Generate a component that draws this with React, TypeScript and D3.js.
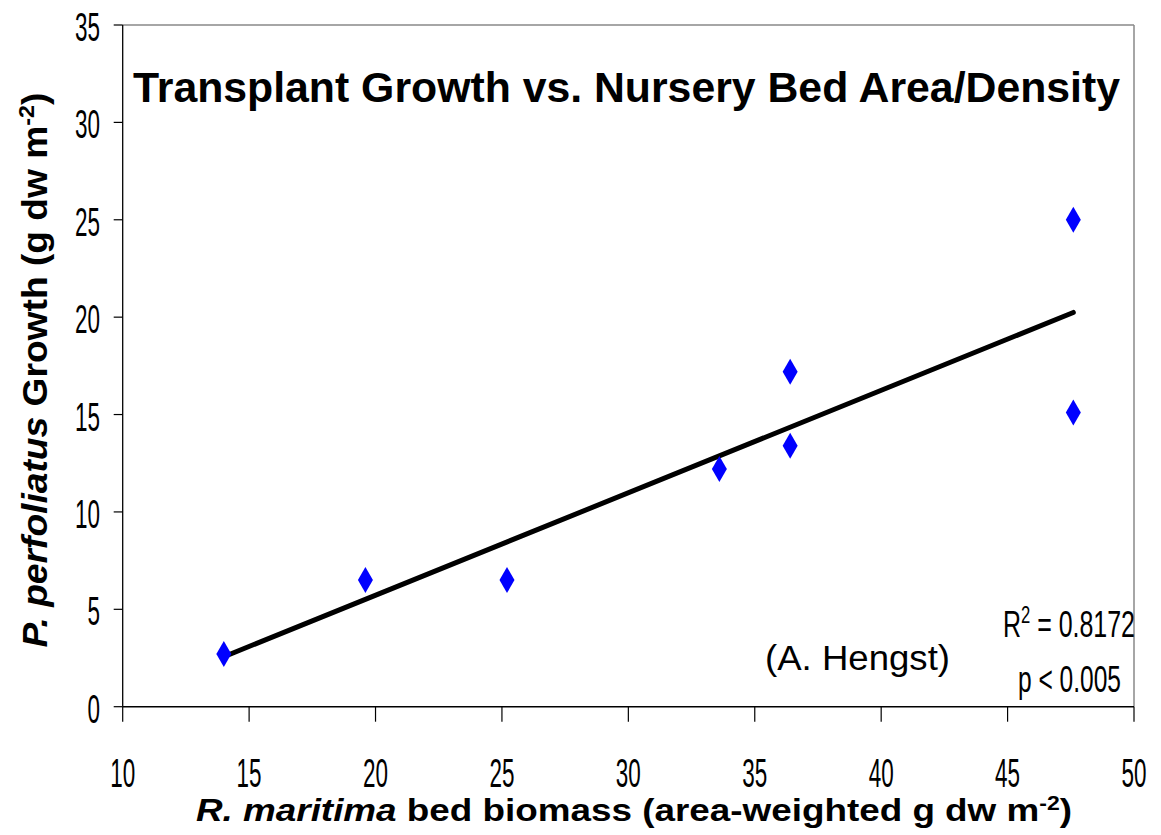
import React from "react";
import * as d3 from "d3";

// biomass of the nursery bed (x) and transplant growth (y)
const bedBiomass = [14.0, 19.6, 25.2, 33.6, 36.4, 36.4, 47.6, 47.6];
const growth = [2.7, 6.5, 6.5, 12.2, 13.4, 17.2, 15.1, 25.0];
const xTicks = [10, 15, 20, 25, 30, 35, 40, 45, 50];
const yTicks = [0, 5, 10, 15, 20, 25, 30, 35];

const W = 1161, H = 835;
const left = 122.7, right = 1134, top = 25, bottom = 706.7;
const narrow = "'Liberation Sans Narrow', 'Arial Narrow', 'Liberation Sans', sans-serif";
const sans = "'Liberation Sans', Arial, sans-serif";

export default function App() {
  const x = d3.scaleLinear().domain([10, 50]).range([left, right]);
  const y = d3.scaleLinear().domain([0, 35]).range([bottom, top]);

  // least squares trendline
  const mx = d3.mean(bedBiomass) as number;
  const my = d3.mean(growth) as number;
  let sxy = 0, sxx = 0;
  bedBiomass.forEach((v, i) => {
    sxy += (v - mx) * (growth[i] - my);
    sxx += (v - mx) * (v - mx);
  });
  const slope = sxy / sxx;
  const icpt = my - slope * mx;
  const x0 = d3.min(bedBiomass) as number, x1 = d3.max(bedBiomass) as number;
  const trend = d3.line<number>().x(d => x(d)).y(d => y(icpt + slope * d))([x0, x1]);

  const diamond = d3.symbol(d3.symbolDiamond, 195)() as string;

  return (
    <svg width={W} height={H} style={{ position: "absolute", left: 0, top: 0, background: "#fff" }}>
      <rect width={W} height={H} fill="#fff" />
      {/* frame */}
      <line x1={left} x2={right} y1={top} y2={top} stroke="#888" strokeWidth={1.5} />
      <line x1={right} x2={right} y1={top} y2={bottom} stroke="#888" strokeWidth={1.5} />
      <line x1={left} x2={left} y1={top} y2={bottom} stroke="#000" strokeWidth={1.3} />
      <line x1={left} x2={right} y1={bottom} y2={bottom} stroke="#000" strokeWidth={1.6} />

      {yTicks.map(t => (
        <g key={"y" + t}>
          <line x1={left - 9} x2={left} y1={y(t)} y2={y(t)} stroke="#000" strokeWidth={1.2} />
          <text x={100} y={y(t) + 16} textAnchor="end" fontFamily={narrow} fontSize={41}
            textLength={String(t).length * 12.5} lengthAdjust="spacingAndGlyphs">{t}</text>
        </g>
      ))}
      {xTicks.map(t => (
        <g key={"x" + t}>
          <line x1={x(t)} x2={x(t)} y1={bottom} y2={bottom + 15} stroke="#000" strokeWidth={1.2} />
          <text x={x(t)} y={787} textAnchor="middle" fontFamily={narrow} fontSize={40}
            textLength={25} lengthAdjust="spacingAndGlyphs">{t}</text>
        </g>
      ))}

      <path d={trend || ""} fill="none" stroke="#000" strokeWidth={5} strokeLinecap="round" />

      {bedBiomass.map((v, i) => (
        <path key={i} d={diamond} transform={`translate(${x(v)},${y(growth[i])})`} fill="#0000ff" />
      ))}

      <text x={133} y={102} fontFamily={sans} fontWeight="bold" fontSize={42}
        textLength={987} lengthAdjust="spacingAndGlyphs">Transplant Growth vs. Nursery Bed Area/Density</text>

      <text x={765} y={670} fontFamily={sans} fontSize={35}
        textLength={185} lengthAdjust="spacingAndGlyphs">(A. Hengst)</text>

      <text x={1003} y={637} fontFamily={narrow} fontSize={36}
        textLength={132} lengthAdjust="spacingAndGlyphs">
        R<tspan dy={-14} fontSize={24}>2</tspan><tspan dy={14}> = 0.8172</tspan>
      </text>
      <text x={1018} y={692} fontFamily={narrow} fontSize={36}
        textLength={103} lengthAdjust="spacingAndGlyphs">p &lt; 0.005</text>

      <text x={196} y={821} fontFamily={sans} fontWeight="bold" fontSize={32}
        textLength={876} lengthAdjust="spacingAndGlyphs">
        <tspan fontStyle="italic">R. maritima</tspan>
        <tspan> bed biomass (area-weighted g dw m</tspan>
        <tspan dy={-11} fontSize={20}>-2</tspan>
        <tspan dy={11}>)</tspan>
      </text>

      <text transform="translate(47,370) rotate(-90)" textAnchor="middle" fontFamily={sans}
        fontWeight="bold" fontSize={35} textLength={555} lengthAdjust="spacingAndGlyphs">
        <tspan fontStyle="italic">P. perfoliatus</tspan>
        <tspan> Growth (g dw m</tspan>
        <tspan dy={-13} fontSize={22}>-2</tspan>
        <tspan dy={13}>)</tspan>
      </text>
    </svg>
  );
}
